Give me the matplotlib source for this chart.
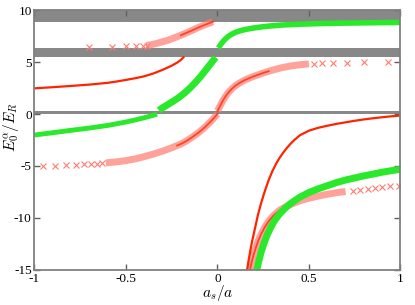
import matplotlib
matplotlib.use("Agg")
import matplotlib.pyplot as plt

plt.rcParams['font.family'] = ['Liberation Serif', 'DejaVu Serif']
plt.rcParams['mathtext.fontset'] = 'cm'
plt.rcParams['axes.unicode_minus'] = False

# ---------------- data ----------------
x_ticks = [-1, -0.5, 0, 0.5, 1]
x_ticklabels = ["-1", "-0.5", "0", "0.5", "1"]
y_ticks = [-15, -10, -5, 0, 5, 10]
y_ticklabels = ["-15", "-10", "-5", "0", "5", "10"]

# grey bands (lower, upper)
band_lo = [8.85, 5.45, 0.0]
band_hi = [10.0, 6.32, 0.3]

# red solid curves
redA_x = [-1.0, -0.9, -0.8, -0.7, -0.6, -0.55, -0.5, -0.45, -0.4, -0.35, -0.3, -0.25, -0.22, -0.2, -0.186]
redA_y = [2.47, 2.58, 2.7, 2.83, 3.0, 3.13, 3.28, 3.44, 3.63, 3.9, 4.25, 4.65, 4.95, 5.2, 5.45]
redE_x = [0.162, 0.17, 0.18, 0.19, 0.2, 0.21, 0.22, 0.235, 0.25, 0.265, 0.28, 0.3, 0.32, 0.34,
          0.36, 0.38, 0.4, 0.42, 0.45, 0.5, 0.55, 0.6, 0.65, 0.7, 0.75, 0.8, 0.85, 0.9, 0.95, 1.0]
redE_y = [-15.0, -14.1, -13.1, -12.2, -11.4, -10.6, -9.8, -8.8, -7.9, -7.1, -6.35, -5.5, -4.8, -4.2,
          -3.7, -3.25, -2.85, -2.5, -2.05, -1.6, -1.33, -1.13, -0.95, -0.8, -0.65, -0.52, -0.41, -0.31, -0.22, -0.15]

# red crosses, upper branch (sparse crosses + dense part)
redB_sx = [-0.704, -0.577, -0.502, -0.446, -0.408, -0.385]
redB_sy = [6.45, 6.47, 6.5, 6.53, 6.56, 6.59]
redB_x = [-0.39, -0.367, -0.33, -0.3, -0.27, -0.24, -0.2, -0.17, -0.14, -0.1, -0.08, -0.06, -0.04, -0.025]
redB_y = [6.6, 6.65, 6.8, 6.95, 7.1, 7.3, 7.58, 7.8, 8.04, 8.35, 8.5, 8.64, 8.77, 8.88]
redB_cx = [-0.2, -0.17, -0.14, -0.1, -0.08, -0.06, -0.04, -0.025]
redB_cy = [7.58, 7.8, 8.04, 8.35, 8.5, 8.64, 8.77, 8.88]

# red crosses, middle branch
redD_sx = [-0.954, -0.887, -0.828, -0.772, -0.728, -0.692, -0.659, -0.632]
redD_sy = [-5.0, -4.96, -4.92, -4.88, -4.84, -4.8, -4.77, -4.74]
redD1_x = [-0.61, -0.55, -0.5, -0.45, -0.4, -0.35, -0.3, -0.25, -0.2, -0.17, -0.14, -0.11,
           -0.08, -0.06, -0.04, -0.02, 0.0]
redD1_y = [-4.7, -4.6, -4.48, -4.32, -4.1, -3.85, -3.57, -3.25, -2.88, -2.6, -2.25, -1.88,
           -1.45, -1.12, -0.78, -0.4, 0.0]
redD2_x = [0.0, 0.015, 0.03, 0.045, 0.06, 0.08, 0.1, 0.125, 0.15, 0.18, 0.21, 0.25, 0.3, 0.35, 0.4, 0.45, 0.5]
redD2_y = [0.3, 0.8, 1.3, 1.72, 2.08, 2.45, 2.75, 3.03, 3.27, 3.5, 3.7, 3.95, 4.22, 4.45, 4.62, 4.74, 4.82]
redD2_sx = [0.53, 0.57, 0.63, 0.71, 0.80, 0.93]
redD2_sy = [4.85, 4.88, 4.91, 4.95, 4.97, 5.0]
redD1_cx = [-0.22, -0.2, -0.17, -0.14, -0.11, -0.08, -0.06, -0.04, -0.02, 0.0]
redD1_cy = [-3.03, -2.88, -2.6, -2.25, -1.88, -1.45, -1.12, -0.78, -0.4, 0.0]
redD2_cx = [0.0, 0.015, 0.03, 0.045, 0.06, 0.08, 0.1, 0.125, 0.15, 0.18, 0.21, 0.25, 0.28]
redD2_cy = [0.3, 0.8, 1.3, 1.72, 2.08, 2.45, 2.75, 3.03, 3.27, 3.5, 3.7, 3.95, 4.12]

# red crosses, lower branch
redF_x = [0.178, 0.185, 0.195, 0.21, 0.225, 0.24, 0.26, 0.28, 0.31, 0.34, 0.38, 0.42, 0.46,
          0.5, 0.55, 0.6, 0.65, 0.7]
redF_y = [-15.0, -14.4, -13.7, -12.85, -12.1, -11.5, -10.85, -10.3, -9.7, -9.25, -8.85, -8.55, -8.3,
          -8.1, -7.9, -7.72, -7.57, -7.45]
redF_sx = [0.74, 0.78, 0.82, 0.86, 0.9, 0.945, 0.99]
redF_sy = [-7.36, -7.27, -7.18, -7.1, -7.02, -6.95, -6.9]
redF_cx = [0.178, 0.185, 0.195, 0.21, 0.225, 0.24, 0.26, 0.28, 0.31, 0.34, 0.38]
redF_cy = [-15.0, -14.4, -13.7, -12.85, -12.1, -11.5, -10.85, -10.3, -9.7, -9.25, -8.85]

# green crosses
greenC1_x = [-1.0, -0.9, -0.8, -0.7, -0.6, -0.5, -0.45, -0.4, -0.35, -0.33]
greenC1_y = [-2.02, -1.8, -1.57, -1.35, -1.1, -0.77, -0.57, -0.36, -0.12, 0.0]
greenC2_x = [-0.32, -0.3, -0.27, -0.24, -0.21, -0.18, -0.15, -0.12, -0.09, -0.07, -0.05, -0.03, -0.01]
greenC2_y = [0.35, 0.6, 0.92, 1.25, 1.6, 2.02, 2.5, 3.05, 3.65, 4.1, 4.55, 5.0, 5.45]
greenC3_x = [0.005, 0.02, 0.04, 0.06, 0.08, 0.1, 0.13, 0.16, 0.2, 0.25, 0.3, 0.35, 0.45, 0.6, 0.8, 1.0]
greenC3_y = [6.35, 6.75, 7.17, 7.48, 7.7, 7.87, 8.04, 8.16, 8.28, 8.4, 8.49, 8.56, 8.64, 8.72, 8.77, 8.81]
greenG_x = [0.215, 0.225, 0.24, 0.255, 0.27, 0.29, 0.31, 0.34, 0.37, 0.4, 0.45, 0.5, 0.55, 0.6,
            0.65, 0.7, 0.75, 0.8, 0.85, 0.9, 0.95, 1.0]
greenG_y = [-15.0, -14.2, -13.2, -12.4, -11.7, -10.95, -10.3, -9.6, -9.05, -8.6, -8.0, -7.55, -7.2, -6.9,
            -6.6, -6.35, -6.15, -5.95, -5.78, -5.6, -5.45, -5.32]

# ---------------- styling ----------------
RED = '#ff2400'
RED_X = '#ff7b70'
GREEN = '#2ae82a'
GREY = '#888888'

fig = plt.figure(figsize=(4.15, 3.05), dpi=100)
ax = fig.add_axes([0.083, 0.115, 0.882, 0.852])

for lo, hi in zip(band_lo, band_hi):
    ax.axhspan(lo, hi, color=GREY, lw=0, zorder=1)

# dense cross bands
band_kw = dict(lw=5, solid_capstyle='butt', solid_joinstyle='round', zorder=2)
ax.plot(redB_x, redB_y, color=RED_X, alpha=0.7, **band_kw)
ax.plot(redD1_x, redD1_y, color=RED_X, alpha=0.7, **band_kw)
ax.plot(redD2_x, redD2_y, color=RED_X, alpha=0.7, **band_kw)
ax.plot(redF_x, redF_y, color=RED_X, alpha=0.7, **band_kw)

# sparse crosses
mk = dict(ls='none', marker='x', ms=4.5, mew=0.8, color=RED_X, zorder=2)
ax.plot(redB_sx, redB_sy, **mk)
ax.plot(redD_sx, redD_sy, **mk)
ax.plot(redD2_sx, redD2_sy, **mk)
ax.plot(redF_sx, redF_sy, **mk)

# green bands
gkw = dict(color=GREEN, solid_capstyle='butt', solid_joinstyle='round', zorder=3)
ax.plot(greenC1_x, greenC1_y, lw=3.5, **gkw)
ax.plot(greenC2_x, greenC2_y, lw=5, **gkw)
ax.plot(greenC3_x, greenC3_y, lw=4, **gkw)
ax.plot(greenG_x, greenG_y, lw=5, **gkw)

# red solid curves
ax.plot(redA_x, redA_y, color=RED, lw=1.6, zorder=4)
ax.plot(redE_x, redE_y, color=RED, lw=1.6, zorder=4)
ax.plot(redB_cx, redB_cy, color=RED, lw=1.3, alpha=0.75, zorder=4)
ax.plot(redD1_cx, redD1_cy, color=RED, lw=1.3, alpha=0.75, zorder=4)
ax.plot(redD2_cx, redD2_cy, color=RED, lw=1.3, alpha=0.75, zorder=4)
ax.plot(redF_cx, redF_cy, color=RED, lw=1.3, alpha=0.75, zorder=2.5)

ax.set_xlim(-1, 1)
ax.set_ylim(-15, 10)
ax.set_xticks(x_ticks)
ax.set_xticklabels(x_ticklabels)
ax.set_yticks(y_ticks)
ax.set_yticklabels(y_ticklabels)
ax.tick_params(direction='in', length=4, width=1, color='#606060',
               top=True, right=True, labelsize=9.5, pad=2)
for s in ax.spines.values():
    s.set_color('#808080')
    s.set_linewidth(1.3)
    s.set_zorder(5)

ax.set_xlabel(r'$a_s/a$', fontsize=11)
ax.set_ylabel(r'$E_0^{\alpha}/E_R$', fontsize=11)
ax.xaxis.set_label_coords(0.5, -0.052)
ax.yaxis.set_label_coords(-0.036, 0.55)

fig.savefig('out.png', dpi=100)
